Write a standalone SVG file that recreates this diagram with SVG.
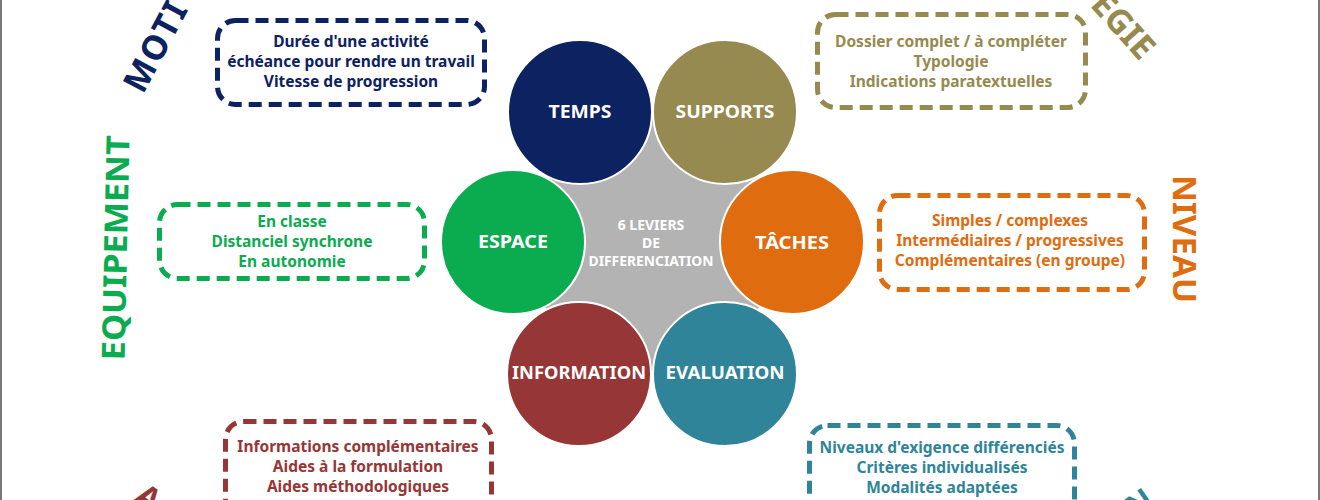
<svg xmlns="http://www.w3.org/2000/svg" width="1320" height="500" viewBox="0 0 1320 500">
<style>
text{font-family:'Noto Sans','Open Sans','DejaVu Sans',sans-serif;font-weight:bold;text-anchor:middle}
.box{fill:none;stroke-width:5;stroke-dasharray:13 7}
.lbl{fill:#fff;font-size:18.5px}
.bt{font-size:15.5px}
.big{font-size:32px}
.ctr{fill:#fff;font-size:14px}
.c{stroke:#fff;stroke-width:2}
.navy{fill:#0d2261}.olive{fill:#968a50}.green{fill:#0bab50}.orange{fill:#e06c10}.red{fill:#973636}.teal{fill:#2f8499}
</style>
<rect width="1320" height="500" fill="#fff"/>
<line x1="1" y1="0" x2="1" y2="500" stroke="#777" stroke-width="2"/>
<line x1="1319" y1="0" x2="1319" y2="500" stroke="#777" stroke-width="2"/>

<g id="hub">
<polygon points="580,112 725,112 792,242 725,374 579,374 513,242" fill="#b3b3b3"/>
<text class="ctr" x="651" y="230">6 LEVIERS</text>
<text class="ctr" x="651" y="248">DE</text>
<text class="ctr" x="651" y="266" textLength="125" lengthAdjust="spacingAndGlyphs">DIFFERENCIATION</text>
</g>

<g id="temps"><circle class="c navy" cx="580" cy="112" r="72"/><text class="lbl" x="580" y="118" textLength="63" lengthAdjust="spacingAndGlyphs">TEMPS</text></g>
<g id="supports"><circle class="c olive" cx="725" cy="112" r="72"/><text class="lbl" x="725" y="118" textLength="99" lengthAdjust="spacingAndGlyphs">SUPPORTS</text></g>
<g id="espace"><circle class="c green" cx="513" cy="242" r="72"/><text class="lbl" x="513" y="248" textLength="70" lengthAdjust="spacingAndGlyphs">ESPACE</text></g>
<g id="taches"><circle class="c orange" cx="792" cy="242" r="72"/><text class="lbl" x="792" y="249" textLength="74" lengthAdjust="spacingAndGlyphs">TÂCHES</text></g>
<g id="information"><circle class="c red" cx="579" cy="374" r="72"/><text class="lbl" x="579" y="379" textLength="134" lengthAdjust="spacingAndGlyphs">INFORMATION</text></g>
<g id="evaluation"><circle class="c teal" cx="725" cy="374" r="72"/><text class="lbl" x="725" y="379" textLength="119" lengthAdjust="spacingAndGlyphs">EVALUATION</text></g>

<g id="box-temps">
<rect class="box" x="217.5" y="20.5" width="267" height="84" rx="18" stroke="#0d2261"/>
<text class="bt navy" x="351" y="47">Durée d'une activité</text>
<text class="bt navy" x="351" y="67">échéance pour rendre un travail</text>
<text class="bt navy" x="351" y="87">Vitesse de progression</text>
</g>
<g id="box-supports">
<rect class="box" x="817.5" y="14.5" width="268" height="93" rx="18" stroke="#968a50"/>
<text class="bt olive" x="951" y="47">Dossier complet / à compléter</text>
<text class="bt olive" x="951" y="67">Typologie</text>
<text class="bt olive" x="951" y="87">Indications paratextuelles</text>
</g>
<g id="box-espace">
<rect class="box" x="159.5" y="204.5" width="265" height="74" rx="18" stroke="#0bab50"/>
<text class="bt green" x="292" y="227">En classe</text>
<text class="bt green" x="292" y="247">Distanciel synchrone</text>
<text class="bt green" x="292" y="267">En autonomie</text>
</g>
<g id="box-taches">
<rect class="box" x="879.5" y="195.5" width="265" height="94" rx="18" stroke="#e06c10"/>
<text class="bt orange" x="1010" y="226">Simples / complexes</text>
<text class="bt orange" x="1010" y="246">Intermédiaires / progressives</text>
<text class="bt orange" x="1010" y="266">Complémentaires (en groupe)</text>
</g>
<g id="box-information">
<rect class="box" x="225.5" y="421.5" width="266" height="100" rx="18" stroke="#973636"/>
<text class="bt red" x="358" y="452">Informations complémentaires</text>
<text class="bt red" x="358" y="472">Aides à la formulation</text>
<text class="bt red" x="358" y="492">Aides méthodologiques</text>
</g>
<g id="box-evaluation">
<rect class="box" x="809.5" y="425.5" width="265" height="100" rx="18" stroke="#2f8499"/>
<text class="bt teal" x="942" y="453">Niveaux d'exigence différenciés</text>
<text class="bt teal" x="942" y="473">Critères individualisés</text>
<text class="bt teal" x="942" y="493">Modalités adaptées</text>
</g>

<g id="outer-labels">
<text class="big navy" style="text-anchor:start;font-size:34px;letter-spacing:2px" transform="translate(143,95) rotate(-62)">MOTI</text>
<text class="big olive" style="text-anchor:end;font-size:34px" transform="translate(1140,62) rotate(48)">EGIE</text>
<text class="big green" transform="translate(127,248) rotate(-88.7)" textLength="225" lengthAdjust="spacingAndGlyphs">EQUIPEMENT</text>
<text class="big orange" transform="translate(1173,239) rotate(90)" textLength="128" lengthAdjust="spacingAndGlyphs">NIVEAU</text>
<text class="big red" style="text-anchor:start" transform="translate(133,500.5) rotate(35)">A</text>
<text class="big teal" style="text-anchor:start" transform="translate(1135,520) rotate(-35)">N</text>
</g>
</svg>
